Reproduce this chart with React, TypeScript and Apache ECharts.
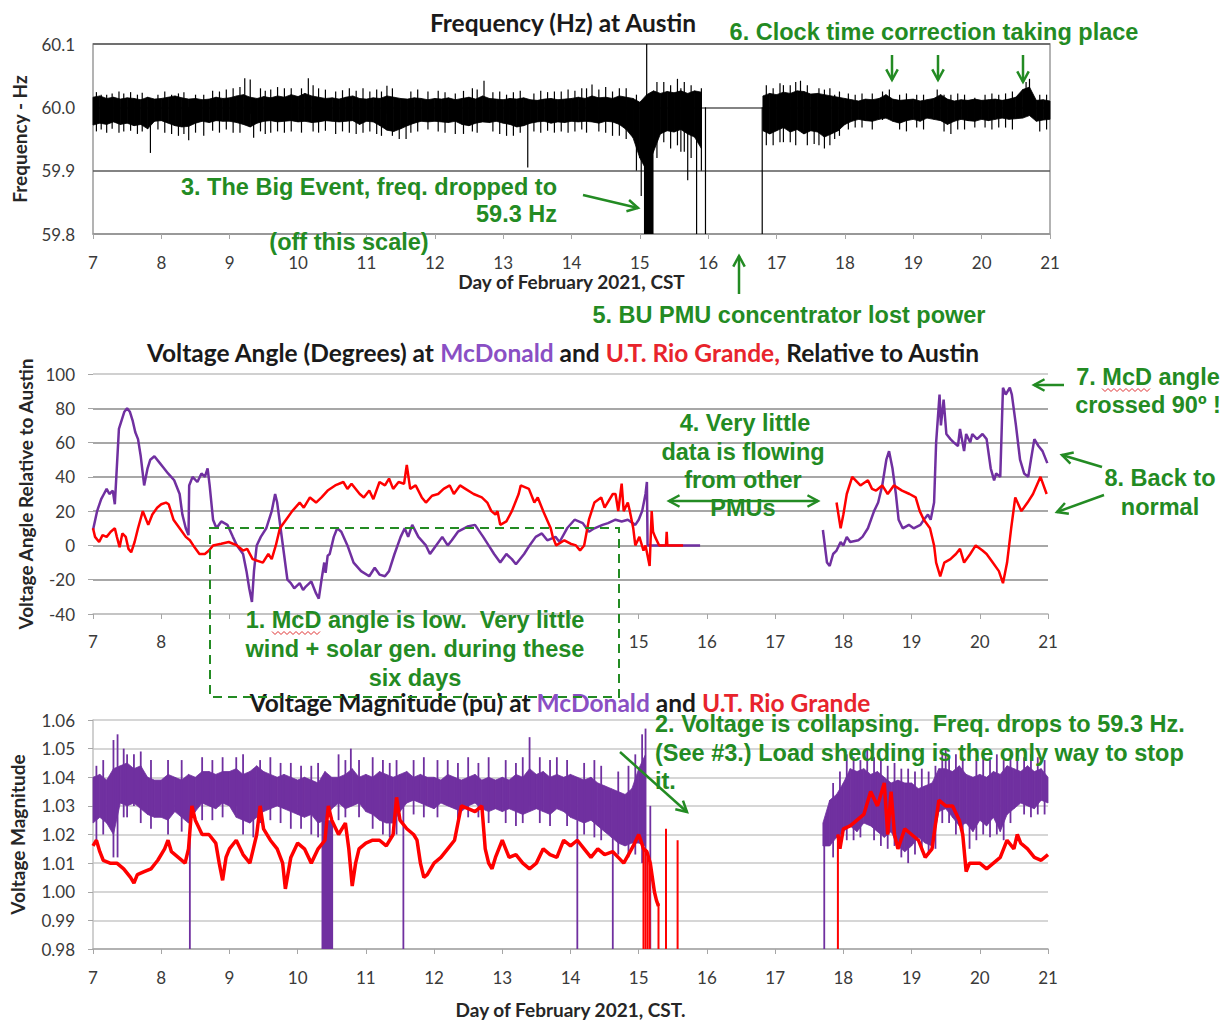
import React, { useEffect, useRef } from "react";
import * as echarts from "echarts";

// ---------- DATA ----------
const DAY0 = 7;
const STEP = 0.1;

// Frequency at Austin (Hz): upper / lower envelope of the dense core of the trace, every 0.1 day from 7.0 to 21.0
const FREQ_HIGH = [
  60.016, 60.018, 60.014, 60.016, 60.013, 60.015, 60.014, 60.012, 60.016, 60.013,
  60.014, 60.016, 60.018, 60.015, 60.013, 60.014, 60.012, 60.013, 60.016, 60.014,
  60.015, 60.018, 60.020, 60.016, 60.014, 60.017, 60.015, 60.018, 60.016, 60.020,
  60.017, 60.022, 60.018, 60.016, 60.014, 60.015, 60.013, 60.016, 60.018, 60.014,
  60.013, 60.015, 60.014, 60.018, 60.016, 60.014, 60.013, 60.015, 60.014, 60.012,
  60.014, 60.013, 60.015, 60.012, 60.014, 60.016, 60.013, 60.018, 60.014, 60.013,
  60.012, 60.014, 60.013, 60.015, 60.012, 60.011, 60.013, 60.014, 60.012, 60.013,
  60.014, 60.016, 60.014, 60.018, 60.015, 60.016, 60.014, 60.018, 60.016, 60.014,
  60.008, 60.020, 60.026, 60.022, 60.025, 60.023, 60.026, 60.022, 60.026, 60.024,
  null, null, null, null, null, null, null, null, 60.018, 60.022,
  60.020, 60.024, 60.022, 60.026, 60.025, 60.021, 60.022, 60.020, 60.018, 60.016,
  60.014, 60.012, 60.010, 60.013, 60.012, 60.014, 60.020, 60.013, 60.011, 60.012,
  60.013, 60.010, 60.012, 60.014, 60.020, 60.013, 60.010, 60.012, 60.011, 60.013,
  60.011, 60.012, 60.013, 60.011, 60.013, 60.016, 60.028, 60.032, 60.011, 60.012,
  60.010,
];
const FREQ_LOW = [
  59.972, 59.975, 59.973, 59.977, 59.973, 59.975, 59.971, 59.973, 59.966, 59.978,
  59.979, 59.975, 59.971, 59.969, 59.970, 59.975, 59.978, 59.976, 59.979, 59.978,
  59.978, 59.976, 59.973, 59.969, 59.975, 59.978, 59.979, 59.977, 59.978, 59.979,
  59.977, 59.978, 59.976, 59.977, 59.979, 59.978, 59.977, 59.978, 59.979, 59.973,
  59.978, 59.977, 59.971, 59.964, 59.962, 59.966, 59.971, 59.975, 59.978, 59.977,
  59.978, 59.977, 59.976, 59.978, 59.973, 59.971, 59.975, 59.977, 59.976, 59.978,
  59.975, 59.973, 59.969, 59.971, 59.975, 59.977, 59.978, 59.975, 59.977, 59.976,
  59.978, 59.977, 59.978, 59.977, 59.975, 59.978, 59.977, 59.973, 59.965, 59.952,
  59.920, 59.900, 59.930, 59.958, 59.963, 59.961, 59.965, 59.958, 59.953, 59.935,
  null, null, null, null, null, null, null, null, 59.963, 59.958,
  59.963, 59.968, 59.961, 59.965, 59.958, 59.963, 59.961, 59.953, 59.958, 59.963,
  59.973, 59.978, 59.981, 59.979, 59.978, 59.981, 59.983, 59.978, 59.975, 59.979,
  59.981, 59.978, 59.983, 59.981, 59.979, 59.973, 59.978, 59.981, 59.979, 59.978,
  59.981, 59.979, 59.981, 59.983, 59.981, 59.982, 59.983, 59.987, 59.978, 59.980,
  59.981,
];
// the Big Event: frequency below the scale (down to 59.3 Hz): [dayStart, dayEnd, low, high]
const FREQ_EVENT = [[15.06, 15.2, 59.3, 59.95]];
// visible excursions of the frequency trace beyond its dense core: [day, low, high]
const FREQ_SPIKES = [
  [7.05, 59.962, 60.024], [7.12, 59.965, 60.02], [7.2, 59.96, 60.02], [7.28, 59.966, 60.022],
  [7.38, 59.96, 60.025], [7.45, 59.962, 60.022], [7.55, 59.963, 60.024], [7.65, 59.958, 60.02],
  [7.72, 59.962, 60.023], [7.84, 59.928, 60.0], [7.95, 59.965, 60.02], [8.05, 59.96, 60.025],
  [8.15, 59.958, 60.02], [8.25, 59.955, 60.022], [8.33, 59.958, 60.024], [8.4, 59.948, 60.0],
  [8.5, 59.96, 60.02], [8.62, 59.955, 60.02], [8.75, 59.963, 60.026], [8.85, 59.96, 60.025],
  [8.95, 59.965, 60.028], [9.05, 59.96, 60.03], [9.15, 59.96, 60.032], [9.22, 59.99, 60.046],
  [9.3, 59.99, 60.044], [9.35, 59.952, 60.0], [9.45, 59.962, 60.03], [9.52, 59.958, 60.026],
  [9.6, 59.96, 60.028], [9.7, 59.962, 60.032], [9.8, 59.96, 60.03], [9.9, 59.962, 60.03],
  [10.05, 59.96, 60.03], [10.15, 59.99, 60.046], [10.22, 59.962, 60.035], [10.3, 59.96, 60.03],
  [10.4, 59.963, 60.028], [10.55, 59.958, 60.025], [10.65, 59.962, 60.027], [10.75, 59.96, 60.03],
  [10.85, 59.958, 60.026], [10.95, 59.96, 60.03], [11.05, 59.962, 60.025], [11.15, 59.958, 60.028],
  [11.22, 59.955, 60.025], [11.3, 59.99, 60.034], [11.38, 59.955, 60.03], [11.48, 59.95, 60.0],
  [11.58, 59.95, 60.0], [11.65, 59.96, 60.025], [11.75, 59.962, 60.028], [11.9, 59.965, 60.025],
  [12.05, 59.962, 60.026], [12.15, 59.96, 60.024], [12.3, 59.958, 60.022], [12.42, 59.958, 60.026],
  [12.55, 59.962, 60.03], [12.62, 59.96, 60.028], [12.72, 59.99, 60.042], [12.85, 59.962, 60.024],
  [12.95, 59.958, 60.025], [13.05, 59.955, 60.02], [13.15, 59.955, 60.024], [13.25, 59.96, 60.026],
  [13.36, 59.905, 60.01], [13.45, 59.962, 60.022], [13.55, 59.96, 60.026], [13.65, 59.963, 60.024],
  [13.75, 59.96, 60.025], [13.85, 59.962, 60.025], [13.95, 59.96, 60.028], [14.05, 59.962, 60.026],
  [14.15, 59.965, 60.03], [14.22, 59.96, 60.03], [14.3, 59.99, 60.036], [14.4, 59.962, 60.028],
  [14.5, 59.96, 60.032], [14.6, 59.955, 60.025], [14.7, 59.955, 60.03], [14.8, 59.95, 60.03],
  [14.95, 59.9, 60.02], [15.02, 59.86, 60.01], [15.1, 59.3, 60.1], [15.25, 59.92, 60.04],
  [15.35, 59.945, 60.04], [15.45, 59.935, 60.035], [15.55, 59.94, 60.045], [15.6, 59.93, 60.03],
  [15.65, 59.93, 60.04], [15.7, 59.885, 60.02], [15.75, 59.92, 60.035], [15.83, 59.3, 60.0],
  [15.9, 59.9, 60.03], [15.96, 59.3, 60.0], [16.79, 59.3, 60.0], [16.85, 59.94, 60.035],
  [16.95, 59.94, 60.03], [17.05, 59.945, 60.038], [17.1, 59.945, 60.035], [17.2, 59.945, 60.035],
  [17.28, 59.94, 60.04], [17.35, 59.99, 60.042], [17.45, 59.94, 60.035], [17.55, 59.942, 60.02],
  [17.62, 59.94, 60.03], [17.7, 59.935, 60.028], [17.78, 59.94, 60.03], [17.85, 59.95, 60.02],
  [17.92, 59.955, 60.025], [18.05, 59.965, 60.022], [18.15, 59.968, 60.02], [18.25, 59.968, 60.022],
  [18.4, 59.965, 60.022], [18.55, 59.98, 60.025], [18.65, 59.985, 60.028], [18.8, 59.965, 60.02],
  [18.9, 59.962, 60.022], [19.05, 59.968, 60.02], [19.15, 59.965, 60.02], [19.35, 59.985, 60.028],
  [19.45, 59.962, 60.02], [19.55, 59.958, 60.02], [19.65, 59.965, 60.022], [19.75, 59.965, 60.02],
  [19.9, 59.968, 60.015], [20.05, 59.968, 60.02], [20.15, 59.965, 60.022], [20.25, 59.968, 60.02],
  [20.35, 59.968, 60.022], [20.45, 59.965, 60.025], [20.65, 59.99, 60.04], [20.7, 59.99, 60.045],
  [20.85, 59.962, 60.02], [20.95, 59.965, 60.02],
];

// Voltage angle relative to Austin (degrees): [day, angle]
const MCD_ANGLE_A = [
  [7.0, 9], [7.06, 20], [7.12, 27], [7.16, 30], [7.2, 33], [7.24, 30], [7.29, 32], [7.32, 24],
  [7.38, 68], [7.46, 78], [7.5, 80], [7.54, 78], [7.58, 73], [7.62, 66], [7.66, 62], [7.7, 52],
  [7.75, 35], [7.8, 45], [7.84, 50], [7.9, 52], [7.98, 48], [8.04, 45], [8.1, 42], [8.19, 38],
  [8.27, 30], [8.31, 18], [8.36, 10], [8.4, 6], [8.41, 35], [8.46, 40], [8.53, 37], [8.59, 42],
  [8.64, 40], [8.68, 45], [8.71, 35], [8.76, 15], [8.81, 10], [8.88, 14], [8.97, 12], [9.05, 5],
  [9.11, 0], [9.2, -5], [9.25, -15], [9.29, -25], [9.33, -33], [9.36, -15], [9.4, 0], [9.46, 5],
  [9.54, 10], [9.62, 20], [9.67, 30], [9.7, 25], [9.75, 10], [9.8, -5], [9.85, -20], [9.9, -22],
  [9.95, -25], [10.03, -22], [10.08, -26], [10.12, -24], [10.2, -21], [10.27, -28], [10.31, -31],
  [10.35, -20], [10.39, -10], [10.41, -16], [10.44, -6], [10.47, -5], [10.53, 5], [10.58, 10],
  [10.64, 8], [10.73, 0], [10.82, -10], [10.93, -15], [11.05, -18], [11.13, -13], [11.2, -17],
  [11.28, -18], [11.34, -15], [11.42, -5], [11.51, 5], [11.57, 10], [11.62, 5], [11.68, 12],
  [11.77, 5], [11.88, 0], [11.94, -5], [12.03, 0], [12.12, 5], [12.2, 0], [12.26, 3], [12.35, 8],
  [12.49, 11], [12.6, 12], [12.72, 5], [12.8, 0], [12.88, -5], [12.97, -10], [13.06, -5],
  [13.14, -8], [13.2, -11], [13.32, -5], [13.4, 0], [13.49, 5], [13.58, 7], [13.66, 3], [13.78, 5],
  [13.84, 2], [13.95, 10], [14.06, 15], [14.18, 13], [14.27, 8], [14.35, 10], [14.47, 12],
  [14.55, 13], [14.66, 15], [14.75, 14], [14.84, 15], [14.95, 12], [15.0, 15], [15.05, 20],
  [15.1, 30], [15.12, 37], [15.13, 0], [15.2, 0], [15.9, 0],
];
const MCD_ANGLE_B = [
  [17.7, 9], [17.76, -10], [17.8, -12], [17.85, -5], [17.9, -3], [17.96, 2], [18.0, 0], [18.05, 5],
  [18.1, 2], [18.22, 3], [18.28, 5], [18.36, 10], [18.45, 20], [18.51, 25], [18.57, 35], [18.63, 50],
  [18.67, 55], [18.72, 45], [18.77, 30], [18.81, 15], [18.87, 10], [18.96, 12], [19.03, 10],
  [19.13, 12], [19.18, 15], [19.24, 18], [19.28, 15], [19.33, 25], [19.36, 60], [19.41, 88],
  [19.43, 70], [19.47, 85], [19.51, 65], [19.57, 62], [19.62, 60], [19.68, 58], [19.71, 68],
  [19.77, 55], [19.8, 65], [19.86, 60], [19.89, 65], [19.96, 62], [20.04, 65], [20.1, 62],
  [20.16, 45], [20.21, 38], [20.24, 42], [20.3, 40], [20.34, 92], [20.38, 88], [20.44, 92],
  [20.47, 88], [20.53, 70], [20.59, 50], [20.65, 42], [20.71, 40], [20.75, 50], [20.8, 62],
  [20.86, 58], [20.92, 55], [20.99, 48],
];
const RIO_ANGLE_A = [
  [7.0, 10], [7.03, 5], [7.09, 2], [7.14, 6], [7.2, 5], [7.26, 8], [7.32, 10], [7.35, 5], [7.39, -1],
  [7.43, 7], [7.48, 5], [7.52, -2], [7.56, -4], [7.61, 2], [7.66, 10], [7.73, 20], [7.81, 12],
  [7.87, 18], [7.94, 22], [8.0, 24], [8.07, 25], [8.11, 24], [8.18, 15], [8.27, 10], [8.36, 5],
  [8.42, 3], [8.47, 0], [8.56, -5], [8.64, -5], [8.7, -3], [8.76, 0], [8.88, 1], [8.99, 2],
  [9.11, 0], [9.2, -3], [9.26, -2], [9.34, -8], [9.49, -10], [9.57, -5], [9.62, -8], [9.68, 0],
  [9.74, 10], [9.83, 15], [9.92, 20], [10.03, 25], [10.09, 22], [10.18, 28], [10.27, 25],
  [10.35, 28], [10.44, 32], [10.55, 35], [10.67, 37], [10.73, 33], [10.79, 36], [10.91, 30],
  [10.97, 28], [11.05, 32], [11.11, 27], [11.2, 37], [11.28, 35], [11.34, 39], [11.4, 33],
  [11.48, 37], [11.56, 36], [11.6, 47], [11.65, 33], [11.73, 35], [11.82, 28], [11.88, 25],
  [11.97, 29], [12.06, 30], [12.14, 33], [12.23, 35], [12.29, 30], [12.38, 35], [12.46, 33],
  [12.58, 30], [12.7, 28], [12.78, 25], [12.84, 20], [12.9, 18], [12.93, 20], [12.97, 12],
  [13.06, 14], [13.14, 20], [13.24, 30], [13.27, 35], [13.39, 33], [13.47, 25], [13.52, 28],
  [13.6, 20], [13.71, 10], [13.74, 5], [13.79, 0], [13.91, 3], [14.0, 1], [14.08, 0], [14.14, -3],
  [14.2, 0], [14.27, 15], [14.35, 25], [14.45, 28], [14.5, 22], [14.62, 30], [14.66, 30],
  [14.7, 20], [14.75, 36], [14.78, 20], [14.84, 25], [14.87, 20], [14.92, 10], [14.95, 0],
  [15.01, 5], [15.07, -3], [15.1, 0], [15.16, -12], [15.19, 20], [15.21, 8], [15.24, 5], [15.3, 0],
  [15.4, 0], [15.41, 8], [15.42, 0], [15.65, 0],
];
const RIO_ANGLE_B = [
  [17.9, 25], [17.96, 10], [18.0, 18], [18.05, 30], [18.13, 40], [18.25, 35], [18.36, 38],
  [18.42, 33], [18.48, 32], [18.57, 35], [18.65, 30], [18.74, 35], [18.86, 32], [18.97, 30],
  [19.06, 28], [19.12, 20], [19.18, 15], [19.27, 10], [19.33, 0], [19.36, -10], [19.42, -18],
  [19.48, -10], [19.57, -8], [19.65, -5], [19.71, -2], [19.77, -10], [19.86, -5], [19.94, 0],
  [20.04, -3], [20.1, -5], [20.19, -10], [20.28, -15], [20.34, -22], [20.4, -10], [20.46, 10],
  [20.52, 28], [20.61, 20], [20.7, 25], [20.78, 30], [20.89, 40], [20.98, 30],
];

// McDonald voltage magnitude (pu): envelope of the dense core of the trace, every 0.1 day from 7.0 to 21.0
const MCD_V_HIGH = [
  1.040, 1.041, 1.039, 1.043, 1.044, 1.045, 1.043, 1.044, 1.040, 1.039,
  1.039, 1.041, 1.040, 1.039, 1.041, 1.040, 1.042, 1.042, 1.041, 1.042,
  1.042, 1.043, 1.041, 1.042, 1.044, 1.042, 1.041, 1.040, 1.041, 1.040,
  1.039, 1.040, 1.039, 1.038, 1.042, 1.040, 1.040, 1.041, 1.043, 1.040,
  1.041, 1.040, 1.042, 1.041, 1.040, 1.041, 1.042, 1.040, 1.041, 1.040,
  1.040, 1.039, 1.041, 1.040, 1.039, 1.040, 1.041, 1.039, 1.040, 1.039,
  1.040, 1.039, 1.041, 1.040, 1.043, 1.041, 1.042, 1.040, 1.041, 1.040,
  1.041, 1.040, 1.039, 1.040, 1.038, 1.037, 1.036, 1.035, 1.034, 1.036,
  1.043, 1.048, null, null, null, null, null, null, null, null,
  null, null, null, null, null, null, null, null, null, null,
  null, null, null, null, null, null, null, 1.024, 1.032, 1.034,
  1.038, 1.043, 1.042, 1.043, 1.041, 1.042, 1.040, 1.038, 1.039, 1.038,
  1.038, 1.036, 1.037, 1.038, 1.043, 1.043, 1.042, 1.044, 1.041, 1.040,
  1.041, 1.040, 1.042, 1.041, 1.044, 1.043, 1.042, 1.044, 1.042, 1.043,
  1.040,
];
const MCD_V_LOW = [
  1.024, 1.026, 1.024, 1.020, 1.031, 1.030, 1.031, 1.029, 1.027, 1.026,
  1.026, 1.025, 1.028, 1.026, 1.024, 1.028, 1.031, 1.030, 1.029, 1.031,
  1.030, 1.026, 1.025, 1.024, 1.026, 1.028, 1.029, 1.030, 1.029, 1.028,
  1.027, 1.026, 1.027, 1.024, 1.025, 1.029, 1.031, 1.029, 1.030, 1.031,
  1.028, 1.027, 1.025, 1.024, 1.024, 1.028, 1.031, 1.032, 1.031, 1.030,
  1.029, 1.031, 1.030, 1.029, 1.028, 1.030, 1.031, 1.029, 1.028, 1.029,
  1.028, 1.029, 1.028, 1.027, 1.028, 1.029, 1.028, 1.027, 1.029, 1.028,
  1.026, 1.025, 1.024, 1.025, 1.023, 1.021, 1.019, 1.017, 1.016, 1.017,
  1.017, 1.016, null, null, null, null, null, null, null, null,
  null, null, null, null, null, null, null, null, null, null,
  null, null, null, null, null, null, null, 1.016, 1.016, 1.019,
  1.021, 1.023, 1.021, 1.024, 1.023, 1.021, 1.019, 1.021, 1.016, 1.014,
  1.016, 1.019, 1.017, 1.016, 1.028, 1.029, 1.026, 1.023, 1.024, 1.021,
  1.025, 1.023, 1.026, 1.021, 1.027, 1.029, 1.031, 1.030, 1.029, 1.032,
  1.031,
];
const MCD_V_SPIKES = [
  [7.05, 1.018, 1.044], [7.15, 1.02, 1.046], [7.3, 1.012, 1.053], [7.36, 1.012, 1.055],
  [7.45, 1.026, 1.05], [7.5, 1.026, 1.048], [7.6, 1.03, 1.048], [7.7, 1.024, 1.049],
  [7.85, 1.022, 1.046], [8.1, 1.02, 1.046], [8.3, 1.021, 1.046], [8.42, 0.98, 1.03],
  [8.6, 1.025, 1.047], [8.75, 1.025, 1.046], [8.9, 1.026, 1.047], [9.1, 1.03, 1.047],
  [9.2, 1.02, 1.048], [9.35, 1.019, 1.04], [9.45, 1.024, 1.046], [9.6, 1.025, 1.047],
  [9.75, 1.024, 1.045], [9.9, 1.022, 1.045], [10.05, 1.022, 1.044], [10.2, 1.02, 1.044],
  [10.3, 1.019, 1.045], [10.6, 1.025, 1.048], [10.7, 1.026, 1.046], [10.78, 1.03, 1.05],
  [10.9, 1.026, 1.046], [11.1, 1.022, 1.047], [11.25, 1.02, 1.046], [11.35, 1.019, 1.045],
  [11.45, 1.02, 1.046], [11.55, 0.98, 1.03], [11.7, 1.027, 1.046], [11.85, 1.026, 1.047],
  [12.05, 1.026, 1.046], [12.2, 1.03, 1.046], [12.35, 1.024, 1.045], [12.5, 1.026, 1.047],
  [12.65, 1.026, 1.045], [12.8, 1.024, 1.047], [13.05, 1.024, 1.046], [13.2, 1.023, 1.045],
  [13.3, 1.024, 1.047], [13.4, 1.03, 1.054], [13.55, 1.024, 1.047], [13.7, 1.023, 1.046],
  [13.8, 1.03, 1.047], [13.95, 1.023, 1.046], [14.1, 0.98, 1.025], [14.2, 1.02, 1.045],
  [14.35, 1.019, 1.046], [14.45, 1.018, 1.044], [14.62, 0.98, 1.02], [14.7, 1.013, 1.042],
  [14.85, 1.012, 1.044], [14.95, 1.013, 1.048], [15.05, 1.01, 1.055], [15.1, 1.0, 1.057],
  [15.17, 0.98, 1.03], [17.72, 0.98, 1.02], [17.85, 1.012, 1.038], [17.95, 1.015, 1.042],
  [18.05, 1.018, 1.048], [18.15, 1.018, 1.047], [18.25, 1.019, 1.046], [18.35, 1.04, 1.05],
  [18.45, 1.018, 1.047], [18.55, 1.016, 1.046], [18.65, 1.015, 1.044], [18.75, 1.016, 1.045],
  [18.85, 1.012, 1.043], [18.95, 1.01, 1.043], [19.05, 1.013, 1.042], [19.15, 1.014, 1.043],
  [19.25, 1.013, 1.042], [19.35, 1.015, 1.044], [19.45, 1.024, 1.048], [19.5, 1.04, 1.05],
  [19.55, 1.024, 1.047], [19.65, 1.02, 1.048], [19.75, 1.02, 1.047], [19.85, 1.015, 1.04],
  [19.95, 1.018, 1.046], [20.05, 1.02, 1.047], [20.15, 1.019, 1.046], [20.25, 1.02, 1.048],
  [20.35, 1.018, 1.046], [20.45, 1.024, 1.048], [20.55, 1.04, 1.048], [20.65, 1.027, 1.047],
  [20.75, 1.026, 1.048], [20.85, 1.027, 1.047], [20.95, 1.027, 1.046],
];
// [dayStart, dayEnd, low, high]
const MCD_V_OUTAGE = [[10.35, 10.52, 0.98, 1.025]];

// U.T. Rio Grande voltage magnitude (pu): [day, value]
const RIO_V_A = [
  [7.0, 1.016], [7.05, 1.018], [7.1, 1.014], [7.15, 1.011], [7.25, 1.01], [7.35, 1.01], [7.45, 1.008],
  [7.55, 1.005], [7.6, 1.003], [7.65, 1.006], [7.75, 1.007], [7.85, 1.008], [7.95, 1.011], [8.05, 1.015],
  [8.1, 1.018], [8.15, 1.014], [8.25, 1.012], [8.35, 1.01], [8.4, 1.015], [8.45, 1.03], [8.5, 1.025],
  [8.6, 1.02], [8.7, 1.02], [8.8, 1.017], [8.85, 1.01], [8.9, 1.004], [8.95, 1.012], [9.0, 1.015],
  [9.1, 1.018], [9.2, 1.013], [9.3, 1.01], [9.35, 1.015], [9.4, 1.02], [9.45, 1.03], [9.5, 1.022],
  [9.6, 1.018], [9.7, 1.015], [9.78, 1.01], [9.82, 1.001], [9.9, 1.012], [10.0, 1.017], [10.1, 1.015],
  [10.2, 1.01], [10.3, 1.015], [10.4, 1.018], [10.45, 1.03], [10.5, 1.025], [10.6, 1.02], [10.7, 1.024],
  [10.75, 1.015], [10.8, 1.002], [10.85, 1.01], [10.9, 1.015], [11.0, 1.017], [11.1, 1.018],
  [11.2, 1.018], [11.3, 1.016], [11.4, 1.02], [11.45, 1.033], [11.5, 1.025], [11.6, 1.022],
  [11.7, 1.02], [11.75, 1.018], [11.8, 1.01], [11.85, 1.005], [11.9, 1.006], [12.0, 1.01],
  [12.1, 1.012], [12.2, 1.015], [12.3, 1.018], [12.4, 1.03], [12.5, 1.029], [12.6, 1.028],
  [12.7, 1.03], [12.75, 1.015], [12.8, 1.01], [12.85, 1.008], [12.9, 1.012], [13.0, 1.018],
  [13.05, 1.015], [13.1, 1.012], [13.2, 1.013], [13.3, 1.01], [13.4, 1.008], [13.5, 1.01],
  [13.6, 1.015], [13.7, 1.013], [13.8, 1.012], [13.9, 1.018], [14.0, 1.016], [14.1, 1.018],
  [14.2, 1.015], [14.3, 1.012], [14.4, 1.015], [14.5, 1.013], [14.62, 1.014], [14.7, 1.012],
  [14.78, 1.01], [14.85, 1.013], [14.92, 1.016], [15.0, 1.02], [15.03, 1.018], [15.07, 1.015],
  [15.12, 1.014], [15.17, 1.01], [15.2, 1.005], [15.23, 1.0], [15.26, 0.997], [15.29, 0.995],
];
const RIO_V_B = [
  [17.92, 1.02], [17.95, 1.015], [18.0, 1.022], [18.1, 1.023], [18.2, 1.025], [18.3, 1.027],
  [18.4, 1.035], [18.5, 1.03], [18.6, 1.038], [18.65, 1.02], [18.7, 1.035], [18.75, 1.02],
  [18.8, 1.015], [18.9, 1.022], [19.0, 1.02], [19.1, 1.018], [19.2, 1.012], [19.3, 1.015],
  [19.4, 1.032], [19.5, 1.03], [19.6, 1.03], [19.7, 1.025], [19.75, 1.02], [19.8, 1.007],
  [19.85, 1.01], [19.9, 1.01], [20.0, 1.01], [20.1, 1.008], [20.2, 1.01], [20.3, 1.012],
  [20.4, 1.018], [20.5, 1.015], [20.55, 1.02], [20.6, 1.017], [20.7, 1.015], [20.8, 1.012],
  [20.9, 1.011], [21.0, 1.013],
];
// vertical drop-outs of the Rio Grande trace: [day, low, high]
const RIO_V_DROPS = [
  [15.07, 0.98, 1.015], [15.1, 0.98, 1.015], [15.13, 0.98, 1.012], [15.16, 0.98, 1.01],
  [15.29, 0.98, 0.996], [15.4, 0.98, 1.022], [15.57, 0.98, 1.018], [17.92, 0.98, 1.02],
];

// ---------- STYLE ----------
const PURPLE = "#7030a0";
const RED = "#ff0000";
const GREEN = "#238b23";
const ANN_FONT = "bold 23.5px 'Liberation Sans', Arial, sans-serif";
const TITLE_FONT = "bold 24.5px Lato, 'Liberation Sans', sans-serif";
const SANS = "Lato, 'Liberation Sans', sans-serif";

function bandRows(hi: (number | null)[], lo: (number | null)[]) {
  const rows: number[][] = [];
  for (let i = 0; i < hi.length - 1; i++) {
    if (hi[i] == null || lo[i] == null || hi[i + 1] == null || lo[i + 1] == null) continue;
    const d0 = Math.round((DAY0 + i * STEP) * 100) / 100;
    const d1 = Math.round((DAY0 + (i + 1) * STEP) * 100) / 100;
    rows.push([d0, hi[i] as number, lo[i] as number, d1, hi[i + 1] as number, lo[i + 1] as number]);
  }
  return rows;
}

const clampFn = (a: number, b: number) => (v: number) => Math.max(a, Math.min(b, v));

function bandRender(color: string, ymin: number, ymax: number) {
  const cl = clampFn(ymin, ymax);
  return (params: any, api: any) => {
    const c = (x: number, y: number) => api.coord([x, cl(y)]);
    const pts = [
      c(api.value(0), api.value(1)),
      c(api.value(3), api.value(4)),
      c(api.value(3), api.value(5)),
      c(api.value(0), api.value(2)),
    ];
    return { type: "polygon", shape: { points: pts }, style: { fill: color, stroke: color, lineWidth: 0.8 } };
  };
}
function spikeRender(color: string, width: number, ymin: number, ymax: number) {
  const cl = clampFn(ymin, ymax);
  return (params: any, api: any) => {
    const p1 = api.coord([api.value(0), cl(api.value(1))]);
    const p2 = api.coord([api.value(0), cl(api.value(2))]);
    return { type: "line", shape: { x1: p1[0], y1: p1[1], x2: p2[0], y2: p2[1] }, style: { stroke: color, lineWidth: width } };
  };
}
function blockRender(color: string, ymin: number, ymax: number) {
  const cl = clampFn(ymin, ymax);
  return (params: any, api: any) => {
    const p1 = api.coord([api.value(0), cl(api.value(3))]);
    const p2 = api.coord([api.value(1), cl(api.value(2))]);
    return { type: "rect", shape: { x: p1[0], y: p1[1], width: p2[0] - p1[0], height: p2[1] - p1[1] }, style: { fill: color } };
  };
}

function txt(x: number, y: number, text: string, align = "center", font = ANN_FONT, fill = GREEN, rich?: any) {
  return {
    type: "text",
    x,
    y,
    z: 100,
    silent: true,
    style: { legacy: false, text, font, fill, align, verticalAlign: "middle", rich },
  };
}
function arrowHead(x1: number, y1: number, x2: number, y2: number, len = 12) {
  const a = Math.atan2(y2 - y1, x2 - x1);
  const s = 0.5;
  return {
    type: "polyline",
    z: 100,
    silent: true,
    shape: {
      points: [
        [x2 - len * Math.cos(a - s), y2 - len * Math.sin(a - s)],
        [x2, y2],
        [x2 - len * Math.cos(a + s), y2 - len * Math.sin(a + s)],
      ],
    },
    style: { stroke: GREEN, lineWidth: 2.5, fill: null },
  };
}
function arrow(x1: number, y1: number, x2: number, y2: number, both = false) {
  const els: any[] = [
    { type: "line", z: 100, silent: true, shape: { x1, y1, x2, y2 }, style: { stroke: GREEN, lineWidth: 2.5 } },
    arrowHead(x1, y1, x2, y2),
  ];
  if (both) els.push(arrowHead(x2, y2, x1, y1));
  return els;
}
function squiggle(x0: number, x1: number, y: number) {
  const pts: number[][] = [];
  let up = true;
  for (let x = x0; x <= x1; x += 3) {
    pts.push([x, up ? y - 1.5 : y + 1.5]);
    up = !up;
  }
  return { type: "polyline", z: 101, silent: true, shape: { points: pts }, style: { stroke: "#e03030", lineWidth: 1, fill: null } };
}

const axisLabelStyle = { fontSize: 17, color: "#3a3a3a", fontFamily: SANS };
const axisNameStyle = { fontSize: 19, fontWeight: "bold", color: "#262626", fontFamily: SANS };

function xAxis(gridIndex: number, extra: any = {}) {
  return {
    gridIndex,
    type: "value",
    min: 7,
    max: 21,
    interval: 1,
    axisLine: { show: true, onZero: false, lineStyle: { color: "#a6a6a6", width: 1.5 } },
    axisTick: { show: true, length: 5, lineStyle: { color: "#a6a6a6" } },
    axisLabel: { ...axisLabelStyle, margin: 20 },
    splitLine: { show: false },
    ...extra,
  };
}

export default function App() {
  const ref = useRef<HTMLDivElement>(null);
  useEffect(() => {
    document.body.style.margin = "0";
    const chart = echarts.init(ref.current as HTMLDivElement, null, { renderer: "svg" });

    const richTitle = {
      k: { font: TITLE_FONT, fill: "#1a1a1a" },
      p: { font: TITLE_FONT, fill: "#8a4fc4" },
      r: { font: TITLE_FONT, fill: "#e8242c" },
    };
    const graphics: any[] = [
      // titles
      txt(563, 22, "Frequency (Hz) at Austin", "center", TITLE_FONT, "#1a1a1a"),
      txt(563, 352, "{k|Voltage Angle (Degrees) at }{p|McDonald}{k| and }{r|U.T. Rio Grande,}{k| Relative to Austin}", "center", TITLE_FONT, "#1a1a1a", richTitle),
      txt(560, 702, "{k|Voltage Magnitude (pu) at }{p|McDonald}{k| and }{r|U.T. Rio Grande}", "center", TITLE_FONT, "#1a1a1a", richTitle),
      // annotations
      txt(934, 32, "6. Clock time correction taking place"),
      ...arrow(892, 55, 892, 80),
      ...arrow(938, 55, 938, 80),
      ...arrow(1023, 55, 1023, 82),
      txt(557, 187, "3. The Big Event, freq. dropped to", "right"),
      txt(557, 214, "59.3 Hz", "right"),
      txt(349, 242, "(off this scale)"),
      ...arrow(583, 195, 638, 208),
      txt(789, 315, "5. BU PMU concentrator lost power"),
      ...arrow(739, 294, 739, 256),
      txt(1148, 377, "7. McD angle"),
      txt(1148, 405, "crossed 90\u00ba !"),
      ...arrow(1064, 385, 1034, 385),
      txt(745, 423, "4. Very little"),
      txt(743, 452, "data is flowing"),
      txt(743, 480, "from other"),
      txt(743, 508, "PMUs"),
      ...arrow(669, 501, 818, 501, true),
      txt(1160, 478, "8. Back to"),
      txt(1160, 507, "normal"),
      ...arrow(1102, 467, 1062, 455),
      ...arrow(1104, 495, 1057, 512),
      txt(415, 620, "1. McD angle is low.  Very little"),
      txt(415, 649, "wind + solar gen. during these"),
      txt(415, 678, "six days"),
      {
        type: "rect",
        z: 100,
        silent: true,
        shape: { x: 210, y: 528, width: 409, height: 169 },
        style: { fill: null, stroke: GREEN, lineWidth: 2, lineDash: [9, 6] },
      },
      txt(655, 724, "2. Voltage is collapsing.  Freq. drops to 59.3 Hz.", "left"),
      txt(655, 753, "(See #3.) Load shedding is the only way to stop", "left"),
      txt(655, 781, "it.", "left"),
      ...arrow(620, 752, 687, 812),
      squiggle(272, 320, 633),
      squiggle(1102, 1152, 390),
    ];

    const option: any = {
      animation: false,
      backgroundColor: "#ffffff",
      grid: [
        { left: 93, top: 44, width: 957, height: 190, show: true, borderColor: "#9a9a9a", borderWidth: 1.5, backgroundColor: "transparent" },
        { left: 93, top: 374, width: 955, height: 240 },
        { left: 93, top: 720, width: 955, height: 231 },
      ],
      xAxis: [
        xAxis(0, { name: "Day of February 2021, CST", nameLocation: "middle", nameGap: 36, nameTextStyle: axisNameStyle }),
        xAxis(1, {
          axisLine: { show: true, onZero: false, lineStyle: { color: "#c0c0c0", width: 1.5 } },
          axisLabel: { ...axisLabelStyle, margin: 19, formatter: (v: number) => (v >= 9 && v <= 14 ? "" : String(v)) },
        }),
        xAxis(2, {
          name: "Day of February 2021, CST.",
          nameLocation: "middle",
          nameGap: 51,
          nameTextStyle: axisNameStyle,
          axisLabel: { ...axisLabelStyle, margin: 20 },
        }),
      ],
      yAxis: [
        {
          gridIndex: 0,
          type: "value",
          min: 59.8,
          max: 60.1,
          interval: 0.1,
          name: "Frequency - Hz",
          nameLocation: "middle",
          nameGap: 64,
          nameRotate: 90,
          nameTextStyle: { ...axisNameStyle, fontSize: 19 },
          axisLine: { show: false },
          axisTick: { show: false },
          axisLabel: { ...axisLabelStyle, margin: 18, formatter: (v: number) => v.toFixed(1) },
          splitLine: { show: true, lineStyle: { color: "#5a5a5a", width: 1.5 } },
        },
        {
          gridIndex: 1,
          type: "value",
          min: -40,
          max: 100,
          interval: 20,
          name: "Voltage Angle Relative to Austin",
          nameLocation: "middle",
          nameGap: 50,
          nameRotate: 90,
          nameTextStyle: axisNameStyle,
          axisLine: { show: false },
          axisTick: { show: true, length: 5, lineStyle: { color: "#a6a6a6" } },
          axisLabel: { ...axisLabelStyle, margin: 18 },
          splitLine: {
            show: true,
            lineStyle: { color: ["#c0c0c0", "#8a8a8a", "#8a8a8a", "#8a8a8a", "#8a8a8a", "#8a8a8a", "#8a8a8a", "#c0c0c0"], width: 1.5 },
          },
        },
        {
          gridIndex: 2,
          type: "value",
          min: 0.98,
          max: 1.06,
          interval: 0.01,
          name: "Voltage Magnitude",
          nameLocation: "middle",
          nameGap: 66,
          nameRotate: 90,
          nameTextStyle: axisNameStyle,
          axisLine: { show: true, lineStyle: { color: "#c0c0c0", width: 1.5 } },
          axisTick: { show: true, length: 5, lineStyle: { color: "#a6a6a6" } },
          axisLabel: { ...axisLabelStyle, margin: 18, formatter: (v: number) => v.toFixed(2) },
          splitLine: { show: true, lineStyle: { color: "#c8c8c8", width: 1.5 } },
        },
      ],
      series: [
        {
          type: "custom",
          xAxisIndex: 0,
          yAxisIndex: 0,
          data: bandRows(FREQ_HIGH, FREQ_LOW),
          encode: { x: [0, 3], y: [1, 2, 4, 5] },
          renderItem: bandRender("#000000", 59.8, 60.1),
          silent: true,
          z: 3,
        },
        {
          type: "custom",
          xAxisIndex: 0,
          yAxisIndex: 0,
          data: FREQ_EVENT,
          encode: { x: [0, 1], y: [2, 3] },
          renderItem: blockRender("#000000", 59.8, 60.1),
          silent: true,
          z: 3,
        },
        {
          type: "custom",
          xAxisIndex: 0,
          yAxisIndex: 0,
          data: FREQ_SPIKES,
          encode: { x: 0, y: [1, 2] },
          renderItem: spikeRender("#000000", 1.2, 59.8, 60.1),
          silent: true,
          z: 3,
        },
        ...[MCD_ANGLE_A, MCD_ANGLE_B].map((d) => ({
          type: "line",
          xAxisIndex: 1,
          yAxisIndex: 1,
          data: d,
          showSymbol: false,
          symbol: "none",
          lineStyle: { color: PURPLE, width: 2.5 },
          itemStyle: { color: PURPLE },
          z: 3,
        })),
        ...[RIO_ANGLE_A, RIO_ANGLE_B].map((d) => ({
          type: "line",
          xAxisIndex: 1,
          yAxisIndex: 1,
          data: d,
          showSymbol: false,
          symbol: "none",
          lineStyle: { color: RED, width: 2.5 },
          itemStyle: { color: RED },
          z: 4,
        })),
        {
          type: "custom",
          xAxisIndex: 2,
          yAxisIndex: 2,
          data: bandRows(MCD_V_HIGH, MCD_V_LOW),
          encode: { x: [0, 3], y: [1, 2, 4, 5] },
          renderItem: bandRender(PURPLE, 0.98, 1.06),
          silent: true,
          z: 3,
        },
        {
          type: "custom",
          xAxisIndex: 2,
          yAxisIndex: 2,
          data: MCD_V_SPIKES,
          encode: { x: 0, y: [1, 2] },
          renderItem: spikeRender(PURPLE, 1.8, 0.98, 1.06),
          silent: true,
          z: 3,
        },
        {
          type: "custom",
          xAxisIndex: 2,
          yAxisIndex: 2,
          data: MCD_V_OUTAGE,
          encode: { x: [0, 1], y: [2, 3] },
          renderItem: blockRender(PURPLE, 0.98, 1.06),
          silent: true,
          z: 3,
        },
        ...[RIO_V_A, RIO_V_B].map((d) => ({
          type: "line",
          xAxisIndex: 2,
          yAxisIndex: 2,
          data: d,
          showSymbol: false,
          symbol: "none",
          lineStyle: { color: RED, width: 3.5 },
          itemStyle: { color: RED },
          z: 4,
        })),
        {
          type: "custom",
          xAxisIndex: 2,
          yAxisIndex: 2,
          data: RIO_V_DROPS,
          encode: { x: 0, y: [1, 2] },
          renderItem: spikeRender(RED, 2, 0.98, 1.06),
          silent: true,
          z: 4,
        },
      ],
      graphic: { elements: graphics },
    };

    chart.setOption(option);
    return () => chart.dispose();
  }, []);

  return <div ref={ref} style={{ width: 1230, height: 1020 }} />;
}
